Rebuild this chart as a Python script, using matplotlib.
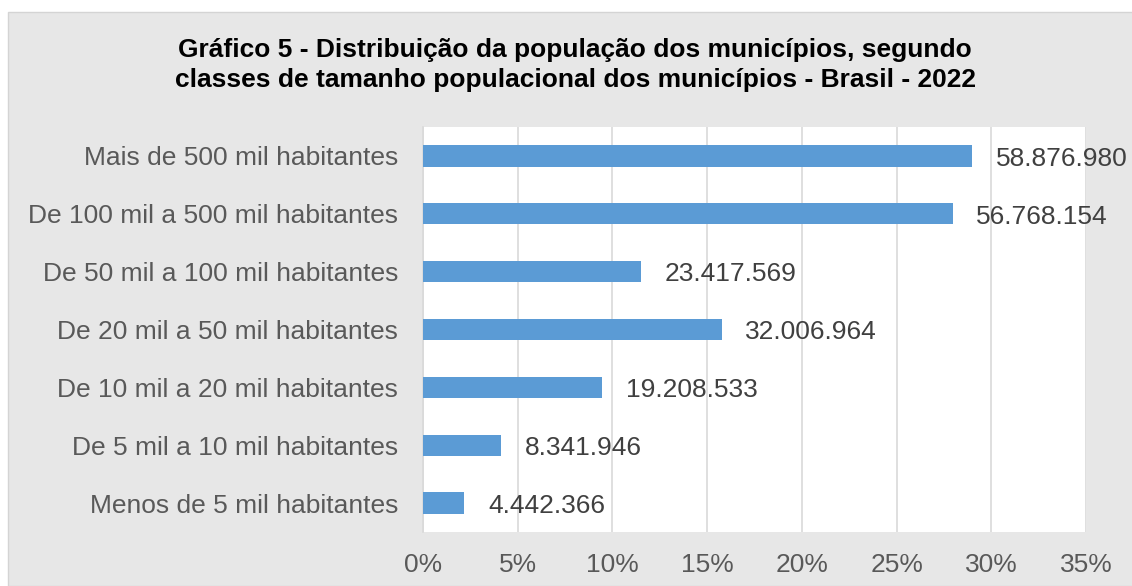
import matplotlib.pyplot as plt
from matplotlib.patches import Rectangle
from matplotlib.ticker import FuncFormatter

categorias = [
    'Menos de 5 mil habitantes',
    'De 5 mil a 10 mil habitantes',
    'De 10 mil a 20 mil habitantes',
    'De 20 mil a 50 mil habitantes',
    'De 50 mil a 100 mil habitantes',
    'De 100 mil a 500 mil habitantes',
    'Mais de 500 mil habitantes',
]
populacao = [4442366, 8341946, 19208533, 32006964, 23417569, 56768154, 58876980]

total = sum(populacao)
percentual = [p / total * 100 for p in populacao]

plt.rcParams['font.family'] = ['Liberation Sans', 'DejaVu Sans']

fig = plt.figure(figsize=(11.32, 5.86), dpi=100)
fig.patch.set_facecolor('white')
# fundo cinza do gráfico
fig.patches.append(Rectangle((8 / 1132, 0), 1, 1 - 12 / 586, transform=fig.transFigure,
                             facecolor='#e7e7e7', edgecolor='#d4d4d4', linewidth=1, zorder=-10))

ax = fig.add_axes([423 / 1132, 1 - 532 / 586, (1086 - 423) / 1132, (532 - 127) / 586])
ax.set_facecolor('white')

y = range(len(categorias))
ax.barh(y, percentual, height=0.37, color='#5b9bd5', zorder=3)

for i, (pct, pop) in enumerate(zip(percentual, populacao)):
    txt = f'{pop:,}'.replace(',', '.')
    ax.annotate(txt, (pct, i), xytext=(17, -2), textcoords='offset points',
                va='center', ha='left', fontsize=19, color='#404040', zorder=4)

ax.set_xlim(0, 35)
ax.set_ylim(-0.5, len(categorias) - 0.5)
ax.set_xticks(range(0, 36, 5))
ax.xaxis.set_major_formatter(FuncFormatter(lambda v, _: f'{v:.0f}%'))
ax.set_yticks(list(y))
ax.set_yticklabels(categorias)
ax.tick_params(axis='both', length=0, labelsize=19, colors='#595959')
ax.tick_params(axis='x', pad=15)
ax.tick_params(axis='y', pad=18)
ax.grid(axis='x', color='#d9d9d9', linewidth=1.2, zorder=0)
for s in ['top', 'right', 'bottom']:
    ax.spines[s].set_visible(False)
ax.spines['left'].set_color('#d9d9d9')
ax.spines['left'].set_linewidth(1.2)

fig.text(0.508, 1 - 65 / 586,
         'Gráfico 5 - Distribuição da população dos municípios, segundo\n'
         'classes de tamanho populacional dos municípios - Brasil - 2022',
         ha='center', va='center', fontsize=19, fontweight='bold', color='black', linespacing=1.35)

fig.savefig('out.png', dpi=100)
